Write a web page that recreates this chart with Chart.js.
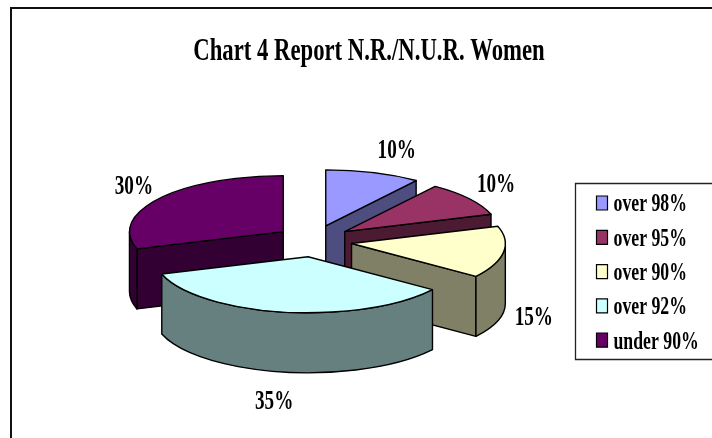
<!DOCTYPE html>
<html>
<head>
<meta charset="utf-8">
<script src="https://cdn.jsdelivr.net/npm/chart.js@4"></script>
<style>html,body{margin:0;padding:0;background:#fff}canvas{display:block}</style>
</head>
<body>
<canvas id="c" width="712" height="438"></canvas>
<script>
const chartTitle = 'Chart 4 Report N.R./N.U.R. Women';
const categories = ['over 98%', 'over 95%', 'over 90%', 'over 92%', 'under 90%'];
const values = [10, 10, 15, 35, 30];
const topColors = ['#9999FF', '#993366', '#FFFFCC', '#CCFFFF', '#660066'];
const sideColors = ['#4D4D80', '#4D1A33', '#808066', '#668080', '#330033'];

// Style of the 3-D projection
const CX = 314, CY = 241, SQUASH = 0.364, EXPLODE = 38, EXPLODE_Y = 0.42, DEPTH = 60;
const paintOrder = [4, 0, 1, 2, 3];
const labelNudge = [[14, 5], [2, 3], [0, 1], [-5, 2], [0, 5]];
const FONT = '"Liberation Serif", "Times New Roman", serif';
const NARROW = 0.71;
const LEGEND_TEXT_SHIFT = [6.5, -2];

const canvas = document.getElementById('c');
const ctx = canvas.getContext('2d');

// Original text is horizontally condensed
const nativeFill = ctx.fillText;
ctx.fillText = function (s, x, y) {
  const isLegend = categories.includes(s);
  this.save();
  this.translate(isLegend ? x - LEGEND_TEXT_SHIFT[0] : x, isLegend ? y - LEGEND_TEXT_SHIFT[1] : y);
  this.scale(NARROW, 1);
  nativeFill.call(this, s, 0, 0);
  this.restore();
};

function apex(arc) {
  const mid = (arc.startAngle + arc.endAngle) / 2;
  return { mid, x: CX + Math.cos(mid) * EXPLODE, y: CY + Math.sin(mid) * EXPLODE * EXPLODE_Y };
}
function project(c, p, arc, dy) {
  c.translate(p.x, p.y + (dy || 0));
  c.scale(1, SQUASH);
  c.translate(-arc.x, -arc.y);
}
function paint(c, fill) {
  if (fill) { c.fillStyle = fill; c.fill(); }
  c.strokeStyle = '#000';
  c.lineWidth = 1.4;
  c.lineJoin = 'round';
  c.stroke();
}
function radialWall(c, arc, p, a, fill) {
  const R = arc.outerRadius;
  const ex = p.x + Math.cos(a) * R, ey = p.y + Math.sin(a) * R * SQUASH;
  c.beginPath();
  c.moveTo(p.x, p.y);
  c.lineTo(ex, ey);
  c.lineTo(ex, ey + DEPTH);
  c.lineTo(p.x, p.y + DEPTH);
  c.closePath();
  paint(c, fill);
}
function outerWall(c, arc, p, fill) {
  const s = arc.startAngle, e = arc.endAngle, R = arc.outerRadius;
  const ranges = [];
  for (const k of [0, 2 * Math.PI, -2 * Math.PI]) {
    const a0 = Math.max(s, k), a1 = Math.min(e, k + Math.PI);
    if (a1 > a0 + 1e-4) ranges.push([a0, a1]);
  }
  for (const [a0, a1] of ranges) {
    c.beginPath();
    c.save(); project(c, p, arc, 0); c.arc(arc.x, arc.y, R, a0, a1); c.restore();
    c.save(); project(c, p, arc, DEPTH); c.arc(arc.x, arc.y, R, a1, a0, true); c.restore();
    c.closePath();
    paint(c, fill);
  }
}

const pie3d = {
  id: 'pie3d',
  afterLayout(chart) {
    const lg = chart.legend;
    const pad = lg.options.labels.padding;
    const h = lg.height, w = lg.width;
    lg.left = 596.5 - pad; lg.right = lg.left + w;
    lg.top = 190.5 - pad; lg.bottom = lg.top + h;
    chart.titleBlock.left = 0; chart.titleBlock.right = 738;
  },
  beforeDraw(chart) {
    const c = chart.ctx;
    c.save();
    c.fillStyle = '#fff';
    c.fillRect(0, 0, chart.width, chart.height);
    c.strokeStyle = '#111';
    c.lineWidth = 2;
    c.beginPath();
    c.moveTo(11, chart.height); c.lineTo(11, 8); c.lineTo(chart.width, 8);
    c.stroke();
    c.lineWidth = 1.3;
    c.strokeStyle = '#222';
    c.beginPath();
    c.moveTo(chart.width, 183.5); c.lineTo(575.5, 183.5); c.lineTo(575.5, 359.5); c.lineTo(chart.width, 359.5);
    c.stroke();
    c.restore();
  },
  beforeDatasetsDraw(chart) {
    const c = chart.ctx;
    const arcs = chart.getDatasetMeta(0).data;
    for (const i of paintOrder) {
      const arc = arcs[i];
      const p = apex(arc);
      const s = arc.startAngle, e = arc.endAngle, R = arc.outerRadius;
      c.save();
      if (-Math.cos(s) > 1e-3) radialWall(c, arc, p, s, sideColors[i]);
      if (Math.cos(e) > 1e-3) radialWall(c, arc, p, e, sideColors[i]);
      outerWall(c, arc, p, sideColors[i]);
      // top face: the library's own arc, under the projection
      c.save(); project(c, p, arc, 0); arc.draw(c); c.restore();
      c.beginPath();
      c.save(); project(c, p, arc, 0);
      c.moveTo(arc.x, arc.y); c.arc(arc.x, arc.y, R, s, e); c.closePath();
      c.restore();
      paint(c, null);
      c.restore();
    }
    c.save();
    c.fillStyle = '#000';
    c.font = 'bold 27px ' + FONT;
    c.textAlign = 'center';
    c.textBaseline = 'middle';
    arcs.forEach((arc, i) => {
      const p = apex(arc);
      const R = arc.outerRadius;
      const front = Math.sin(p.mid) > 0;
      const x = p.x + Math.cos(p.mid) * R * 1.2 + labelNudge[i][0];
      const y = p.y + Math.sin(p.mid) * R * SQUASH * 1.5 + (front ? DEPTH : 0) + labelNudge[i][1];
      c.fillText(values[i] + '%', x, y);
    });
    c.restore();
    return false;
  }
};

new Chart(ctx, {
  type: 'pie',
  data: {
    labels: categories,
    datasets: [{ data: values, backgroundColor: topColors, borderWidth: 0, hoverOffset: 0 }]
  },
  plugins: [pie3d],
  options: {
    responsive: false,
    animation: false,
    events: [],
    rotation: 0,
    layout: { padding: { left: 0, right: 0, top: 0, bottom: 12 } },
    plugins: {
      tooltip: { enabled: false },
      title: {
        display: true,
        text: chartTitle,
        color: '#000',
        font: { family: FONT, size: 32, weight: 'bold' },
        padding: { top: 33, bottom: 47 }
      },
      legend: {
        position: 'right',
        align: 'start',
        labels: {
          color: '#000',
          font: { family: FONT, size: 25, weight: 'bold' },
          boxWidth: 11,
          boxHeight: 14,
          padding: 9.3,
          generateLabels(chart) {
            return Chart.overrides.pie.plugins.legend.labels.generateLabels(chart).map(l =>
              Object.assign(l, { strokeStyle: '#000', lineWidth: 1.2 }));
          }
        }
      }
    }
  }
});
</script>
</body>
</html>
